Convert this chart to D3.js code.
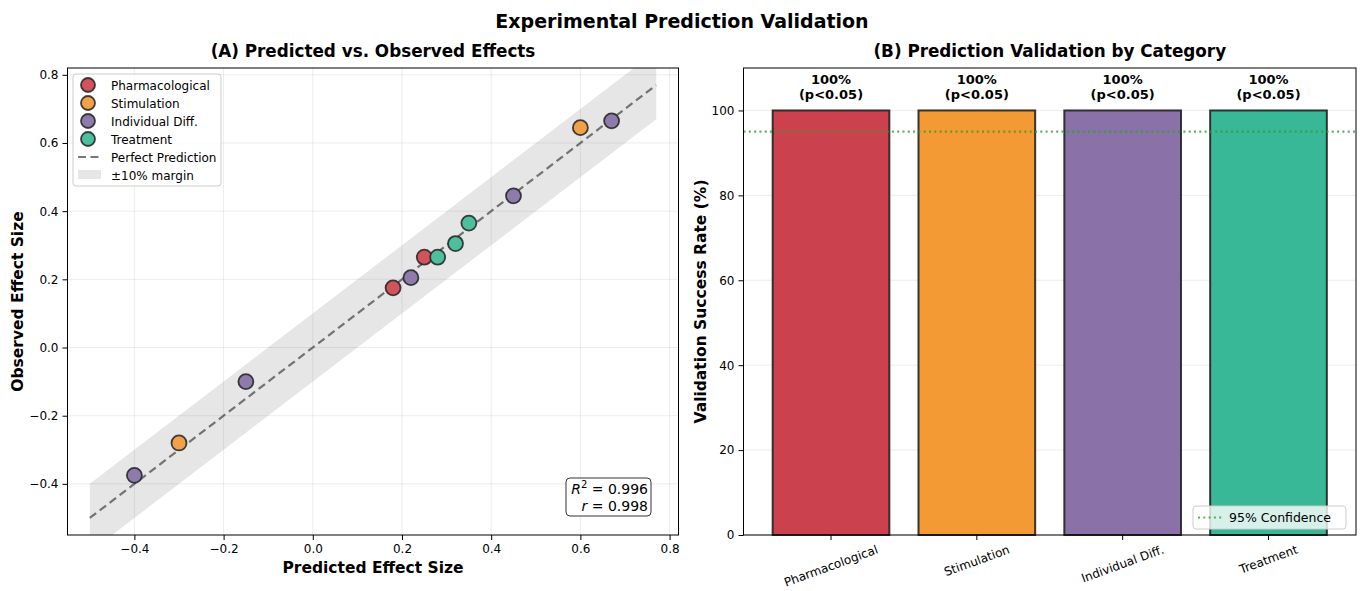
<!DOCTYPE html>
<html>
<head>
<meta charset="utf-8">
<script src="https://cdn.jsdelivr.net/npm/d3@7"></script>
<style>
  body { margin: 0; background: #fff; }
  svg { font-family: "DejaVu Sans", sans-serif; }
</style>
</head>
<body>
<div id="chart"></div>
<script>
// Panel A data: predicted vs observed effect sizes by category
const groups = ["Pharmacological", "Stimulation", "Individual Diff.", "Treatment"];
const groupColors = ["#d2535d", "#f3a04a", "#8e7bac", "#4dbf9c"];
const predicted = [0.18, 0.25, -0.30, 0.60, -0.40, -0.15, 0.22, 0.45, 0.67, 0.28, 0.32, 0.35];
const observed  = [0.175, 0.265, -0.28, 0.645, -0.375, -0.10, 0.205, 0.445, 0.665, 0.265, 0.305, 0.365];
const pointGroup = [0, 0, 1, 1, 2, 2, 2, 2, 2, 3, 3, 3];
const fitLine = [-0.5, 0.77];
const axisTicks = [-0.4, -0.2, 0.0, 0.2, 0.4, 0.6, 0.8];

// Panel B data: validation success rate by category
const barColors = ["#cc414e", "#f49a34", "#8a71a8", "#38b897"];
const successRate = [100, 100, 100, 100];
const barLabels = ["100%\n(p<0.05)", "100%\n(p<0.05)", "100%\n(p<0.05)", "100%\n(p<0.05)"];
const confidenceLevel = 95;
const rateTicks = [0, 20, 40, 60, 80, 100];

const W = 1362, H = 591;
const svg = d3.select("#chart").append("svg")
  .attr("width", W).attr("height", H);

// Suptitle
svg.append("text")
  .attr("x", 682).attr("y", 28)
  .attr("text-anchor", "middle")
  .style("font-size", "19px").style("font-weight", "bold")
  .text("Experimental Prediction Validation");

// ---------- Panel A ----------
const A = {left: 67.5, right: 678.5, top: 68, bottom: 535};
const x = d3.scaleLinear().domain([-0.55, 0.82]).range([A.left, A.right]);
const y = d3.scaleLinear().domain([-0.55, 0.82]).range([A.bottom, A.top]);

const gA = svg.append("g");
svg.append("clipPath").attr("id", "clipA")
  .append("rect").attr("x", A.left).attr("y", A.top)
  .attr("width", A.right - A.left).attr("height", A.bottom - A.top);

// grid
gA.append("g").selectAll("line").data(axisTicks).enter().append("line")
  .attr("x1", d => x(d)).attr("x2", d => x(d))
  .attr("y1", A.top).attr("y2", A.bottom)
  .attr("stroke", "#b0b0b0").attr("stroke-opacity", 0.3).attr("stroke-width", 0.8);
gA.append("g").selectAll("line").data(axisTicks).enter().append("line")
  .attr("y1", d => y(d)).attr("y2", d => y(d))
  .attr("x1", A.left).attr("x2", A.right)
  .attr("stroke", "#b0b0b0").attr("stroke-opacity", 0.3).attr("stroke-width", 0.8);

// ±10% margin band
const bandPts = fitLine.map(v => ({x: v, lo: v - 0.1, hi: v + 0.1}));
gA.append("path")
  .attr("clip-path", "url(#clipA)")
  .attr("d", d3.area().x(d => x(d.x)).y0(d => y(d.lo)).y1(d => y(d.hi))(bandPts))
  .attr("fill", "gray").attr("fill-opacity", 0.2);

// perfect prediction line
gA.append("line")
  .attr("x1", x(fitLine[0])).attr("y1", y(fitLine[0]))
  .attr("x2", x(fitLine[1])).attr("y2", y(fitLine[1]))
  .attr("stroke", "#555").attr("stroke-opacity", 0.8)
  .attr("stroke-width", 2.2).attr("stroke-dasharray", "8,4.5");

// points
gA.append("g").selectAll("circle").data(predicted).enter().append("circle")
  .attr("cx", (d, i) => x(d))
  .attr("cy", (d, i) => y(observed[i]))
  .attr("r", 7.5)
  .attr("fill", (d, i) => groupColors[pointGroup[i]])
  .attr("stroke", "#222").attr("stroke-opacity", 0.85).attr("stroke-width", 1.8);

// axes
gA.append("g").attr("transform", `translate(0,${A.bottom})`)
  .call(d3.axisBottom(x).tickValues(axisTicks).tickFormat(d3.format(".1f")).tickSize(5).tickPadding(4))
  .call(g => g.select(".domain").remove())
  .selectAll("text").style("font-size", "12px").attr("font-family", "DejaVu Sans");
gA.append("g").attr("transform", `translate(${A.left},0)`)
  .call(d3.axisLeft(y).tickValues(axisTicks).tickFormat(d3.format(".1f")).tickSize(5).tickPadding(4))
  .call(g => g.select(".domain").remove())
  .selectAll("text").style("font-size", "12px").attr("font-family", "DejaVu Sans");
gA.append("rect")
  .attr("x", A.left).attr("y", A.top)
  .attr("width", A.right - A.left).attr("height", A.bottom - A.top)
  .attr("fill", "none").attr("stroke", "#000").attr("stroke-width", 1);

// labels
gA.append("text").attr("x", (A.left + A.right) / 2).attr("y", 57)
  .attr("text-anchor", "middle").style("font-size", "16.8px").style("font-weight", "bold")
  .text("(A) Predicted vs. Observed Effects");
gA.append("text").attr("x", (A.left + A.right) / 2).attr("y", 573)
  .attr("text-anchor", "middle").style("font-size", "15.5px").style("font-weight", "bold")
  .text("Predicted Effect Size");
gA.append("text")
  .attr("transform", `translate(23,${(A.top + A.bottom) / 2}) rotate(-90)`)
  .attr("text-anchor", "middle").style("font-size", "15.5px").style("font-weight", "bold")
  .text("Observed Effect Size");

// legend A
const legA = gA.append("g").attr("transform", "translate(73,74)");
legA.append("rect").attr("width", 148).attr("height", 112).attr("rx", 3)
  .attr("fill", "#fff").attr("fill-opacity", 0.8)
  .attr("stroke", "#ccc").attr("stroke-width", 1);
groups.forEach((gName, i) => {
  const cy = 11 + i * 18;
  legA.append("circle").attr("cx", 15).attr("cy", cy).attr("r", 7)
    .attr("fill", groupColors[i]).attr("stroke", "#222").attr("stroke-opacity", 0.85).attr("stroke-width", 1.8);
  legA.append("text").attr("x", 38).attr("y", cy + 4.5).style("font-size", "12px").text(gName);
});
legA.append("line").attr("x1", 5).attr("x2", 28).attr("y1", 83).attr("y2", 83)
  .attr("stroke", "#555").attr("stroke-opacity", 0.8).attr("stroke-width", 2.2).attr("stroke-dasharray", "8,4.5");
legA.append("text").attr("x", 38).attr("y", 87.5).style("font-size", "12px").text("Perfect Prediction");
legA.append("rect").attr("x", 5).attr("y", 96).attr("width", 23).attr("height", 9)
  .attr("fill", "gray").attr("fill-opacity", 0.2);
legA.append("text").attr("x", 38).attr("y", 105.5).style("font-size", "12px").text("±10% margin");

// stats box
const stat = gA.append("g").attr("transform", "translate(566,478)");
stat.append("rect").attr("width", 85).attr("height", 38).attr("rx", 4)
  .attr("fill", "#fff").attr("stroke", "#333").attr("stroke-width", 1);
const t1 = stat.append("text").attr("x", 82).attr("y", 16).attr("text-anchor", "end").style("font-size", "14px");
t1.append("tspan").style("font-style", "italic").text("R");
t1.append("tspan").attr("dy", -6).style("font-size", "10px").text("2");
t1.append("tspan").attr("dy", 6).text(" = 0.996");
const t2 = stat.append("text").attr("x", 82).attr("y", 33).attr("text-anchor", "end").style("font-size", "14px");
t2.append("tspan").style("font-style", "italic").text("r");
t2.append("tspan").text(" = 0.998");

// ---------- Panel B ----------
const B = {left: 743.5, right: 1356, top: 68, bottom: 535};
const xb = d3.scaleBand().domain(groups).range([B.left, B.right]).paddingInner(0.2).paddingOuter(0.2);
const yb = d3.scaleLinear().domain([0, 110]).range([B.bottom, B.top]);
const gB = svg.append("g");

gB.append("g").selectAll("line").data(rateTicks).enter().append("line")
  .attr("x1", B.left).attr("x2", B.right)
  .attr("y1", d => yb(d)).attr("y2", d => yb(d))
  .attr("stroke", "#b0b0b0").attr("stroke-opacity", 0.3).attr("stroke-width", 0.8);

gB.append("g").selectAll("rect").data(successRate).enter().append("rect")
  .attr("x", (d, i) => xb(groups[i]))
  .attr("y", d => yb(d))
  .attr("width", xb.bandwidth())
  .attr("height", d => yb(0) - yb(d))
  .attr("fill", (d, i) => barColors[i])
  .attr("stroke", "#222").attr("stroke-opacity", 0.9).attr("stroke-width", 2);

// bar labels
successRate.forEach((d, i) => {
  const lines = barLabels[i].split("\n");
  const t = gB.append("text")
    .attr("x", xb(groups[i]) + xb.bandwidth() / 2)
    .attr("y", yb(d) - 26)
    .attr("text-anchor", "middle")
    .style("font-size", "13px").style("font-weight", "bold");
  lines.forEach((l, j) => t.append("tspan")
    .attr("x", xb(groups[i]) + xb.bandwidth() / 2)
    .attr("dy", j === 0 ? 0 : 14.5).text(l));
});

// 95% confidence line
gB.append("line")
  .attr("x1", B.left).attr("x2", B.right)
  .attr("y1", yb(confidenceLevel)).attr("y2", yb(confidenceLevel))
  .attr("stroke", "#2ca02c").attr("stroke-opacity", 0.8)
  .attr("stroke-width", 2.2).attr("stroke-dasharray", "2,3.3");

// axes B
gB.append("g").attr("transform", `translate(${B.left},0)`)
  .call(d3.axisLeft(yb).tickValues(rateTicks).tickSize(5).tickPadding(4))
  .call(g => g.select(".domain").remove())
  .selectAll("text").style("font-size", "12px").attr("font-family", "DejaVu Sans");
gB.append("g").attr("transform", `translate(0,${B.bottom})`)
  .call(d3.axisBottom(xb).tickSize(5).tickFormat(""))
  .call(g => g.select(".domain").remove());
gB.append("rect")
  .attr("x", B.left).attr("y", B.top)
  .attr("width", B.right - B.left).attr("height", B.bottom - B.top)
  .attr("fill", "none").attr("stroke", "#000").attr("stroke-width", 1);

// rotated category labels, bbox centered under tick
groups.forEach(gName => {
  const cx = xb(gName) + xb.bandwidth() / 2;
  const t = gB.append("text")
    .attr("text-anchor", "middle")
    .attr("dominant-baseline", "central")
    .style("font-size", "12px")
    .text(gName);
  const w = t.node().getComputedTextLength();
  const a = 20 * Math.PI / 180;
  const hbox = w * Math.sin(a) + 13 * Math.cos(a);
  t.attr("transform", `translate(${cx},${B.bottom + 8 + hbox / 2}) rotate(-20)`);
});

gB.append("text").attr("x", (B.left + B.right) / 2).attr("y", 57)
  .attr("text-anchor", "middle").style("font-size", "16.8px").style("font-weight", "bold")
  .text("(B) Prediction Validation by Category");
gB.append("text")
  .attr("transform", `translate(706,${(B.top + B.bottom) / 2}) rotate(-90)`)
  .attr("text-anchor", "middle").style("font-size", "15.5px").style("font-weight", "bold")
  .text("Validation Success Rate (%)");

// legend B
const legB = gB.append("g").attr("transform", "translate(1193,506)");
legB.append("rect").attr("width", 153).attr("height", 23).attr("rx", 3)
  .attr("fill", "#fff").attr("fill-opacity", 0.8)
  .attr("stroke", "#ccc").attr("stroke-width", 1);
legB.append("line").attr("x1", 5).attr("x2", 29).attr("y1", 11.5).attr("y2", 11.5)
  .attr("stroke", "#2ca02c").attr("stroke-opacity", 0.8).attr("stroke-width", 2.2).attr("stroke-dasharray", "2,3.3");
legB.append("text").attr("x", 36).attr("y", 16).style("font-size", "12.5px").text("95% Confidence");
</script>
</body>
</html>
